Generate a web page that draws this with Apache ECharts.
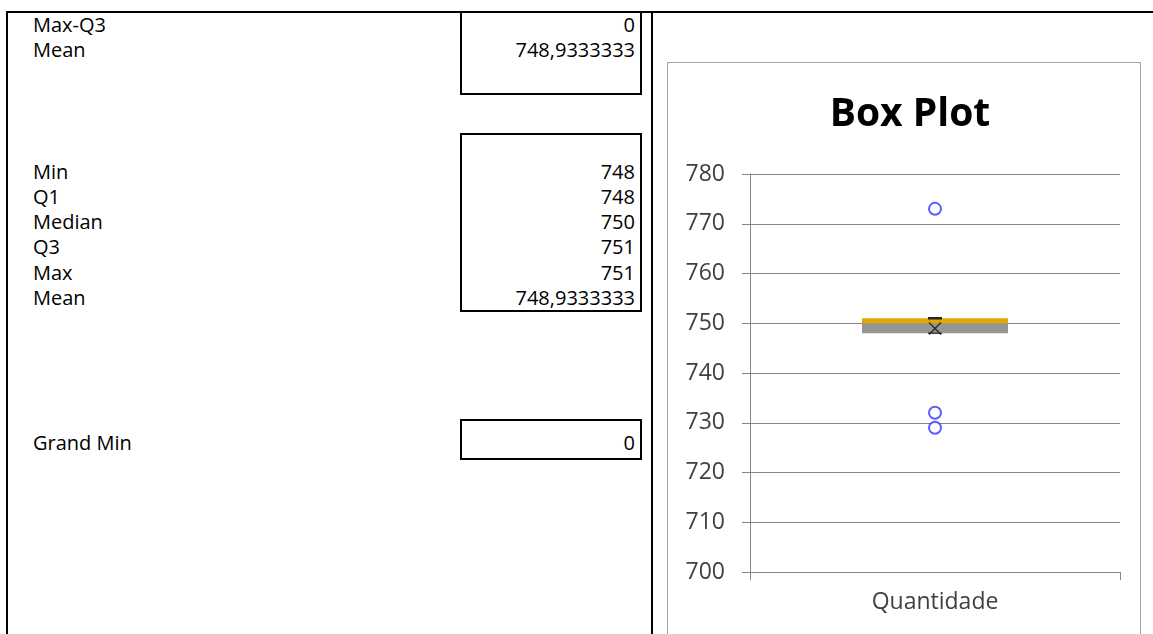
<!DOCTYPE html>
<html>
<head>
<meta charset="utf-8">
<script src="https://cdn.jsdelivr.net/npm/echarts@6/dist/echarts.min.js"></script>
<style>
html, body { margin: 0; padding: 0; background: #fff; }
body {
  width: 1153px;
  height: 634px;
  overflow: hidden;
  position: relative;
  font-family: 'Open Sans', sans-serif;
}
.rule { position: absolute; background: #000; }
.cell-box {
  position: absolute;
  left: 460px;
  width: 182px;
  box-sizing: border-box;
  border: 2px solid #000;
}
.row-label, .row-value {
  position: absolute;
  font-size: 20px;
  line-height: 26px;
  height: 26px;
  color: #000;
  white-space: nowrap;
}
.row-label { left: 33px; }
.row-value { left: 460px; width: 175px; text-align: right; }
#chart {
  position: absolute;
  left: 667px;
  top: 62px;
  width: 472px;
  height: 600px;
  border: 1px solid #a6a6a6;
  background: #fff;
}
</style>
</head>
<body>
<div id="sheet"></div>
<div id="chart"></div>
<script>
// sheet values
const tableLabels = ['Max-Q3', 'Mean', 'Min', 'Q1', 'Median', 'Q3', 'Max', 'Mean', 'Grand Min']
const tableValues = [0, 748.9333333, 748, 748, 750, 751, 751, 748.9333333, 0]

// box plot values
const categories = ['Quantidade']
const statNames = ['Min', 'Q1', 'Median', 'Q3', 'Max', 'Mean']
const statValues = [748, 748, 750, 751, 751, 748.9333333]
const outlierValues = [773, 732, 729]
const yTicks = [700, 710, 720, 730, 740, 750, 760, 770, 780]

const stat = name => statValues[statNames.indexOf(name)]
const fmt = v => (Number.isInteger(v) ? String(v) : v.toFixed(7).replace('.', ','))

// spreadsheet layout
const sheet = document.getElementById('sheet')
const rowCenters = [25, 50, 172, 197, 222, 247, 273, 298, 443]
const addEl = (cls, css, text) => {
  const el = document.createElement('div')
  el.className = cls
  Object.assign(el.style, css)
  if (text !== undefined) el.textContent = text
  sheet.appendChild(el)
}
addEl('rule', { left: '6px', top: '11px', width: '1147px', height: '2px' })
addEl('rule', { left: '6px', top: '11px', width: '2px', height: '623px' })
addEl('rule', { left: '651px', top: '11px', width: '2px', height: '623px' })
addEl('cell-box', { top: '11px', height: '84px' })
addEl('cell-box', { top: '133px', height: '179px' })
addEl('cell-box', { top: '419px', height: '41px' })
tableLabels.forEach((label, i) => {
  const top = (rowCenters[i] - 13) + 'px'
  addEl('row-label', { top }, label)
  addEl('row-value', { top }, fmt(tableValues[i]))
})

// chart
const chart = echarts.init(document.getElementById('chart'))
const gridColor = '#868686'
const labelColor = '#404040'
const q1 = stat('Q1')
const median = stat('Median')
const q3 = stat('Q3')

chart.setOption({
  animation: false,
  title: {
    text: 'Box Plot',
    left: 237,
    textAlign: 'center',
    top: 27,
    textStyle: {
      fontFamily: 'Open Sans',
      fontSize: 39,
      fontWeight: 'bold',
      color: '#000'
    }
  },
  grid: {
    left: 82,
    top: 111,
    width: 370,
    height: 398,
    containLabel: false
  },
  xAxis: {
    type: 'category',
    data: categories,
    boundaryGap: true,
    axisLine: { show: true, lineStyle: { color: gridColor, width: 1 } },
    axisTick: { show: true, length: 8, alignWithLabel: false, lineStyle: { color: gridColor } },
    axisLabel: {
      fontFamily: 'Open Sans',
      fontSize: 23,
      color: labelColor,
      margin: 19
    },
    splitLine: { show: false }
  },
  yAxis: {
    type: 'value',
    min: yTicks[0],
    max: yTicks[yTicks.length - 1],
    interval: yTicks[1] - yTicks[0],
    axisLine: { show: true, lineStyle: { color: gridColor, width: 1 } },
    axisTick: { show: true, length: 8, lineStyle: { color: gridColor } },
    axisLabel: {
      fontFamily: 'Open Sans',
      fontSize: 23,
      color: labelColor,
      margin: 25
    },
    splitLine: { show: true, lineStyle: { color: gridColor, width: 1 } }
  },
  series: [
    {
      name: 'base',
      type: 'bar',
      stack: 'box',
      barWidth: 146,
      data: [q1],
      itemStyle: { color: 'transparent' },
      silent: true
    },
    {
      name: 'Q1-Median',
      type: 'bar',
      stack: 'box',
      barWidth: 146,
      data: [median - q1],
      itemStyle: { color: '#959595' }
    },
    {
      name: 'Median-Q3',
      type: 'bar',
      stack: 'box',
      barWidth: 146,
      data: [q3 - median],
      itemStyle: { color: '#e3a800' }
    },
    {
      name: 'whiskers',
      type: 'custom',
      z: 5,
      data: [[0, stat('Min'), q1, q3, stat('Max'), stat('Mean')]],
      renderItem: (params, api) => {
        const cat = api.value(0)
        const pt = v => api.coord([cat, api.value(v)])
        const x = pt(1)[0]
        const yMin = pt(1)[1]
        const yQ1 = pt(2)[1]
        const yQ3 = pt(3)[1]
        const yMax = pt(4)[1]
        const yMean = pt(5)[1]
        const stroke = { stroke: '#262626', lineWidth: 2 }
        const thin = { stroke: '#262626', lineWidth: 1.3 }
        const cap = 7
        const m = 6
        return {
          type: 'group',
          children: [
            { type: 'line', shape: { x1: x, y1: yMin, x2: x, y2: yQ1 }, style: stroke },
            { type: 'line', shape: { x1: x, y1: yQ3, x2: x, y2: yMax }, style: stroke },
            { type: 'line', shape: { x1: x - cap, y1: yMin, x2: x + cap, y2: yMin }, style: thin },
            { type: 'line', shape: { x1: x - cap, y1: yMax, x2: x + cap, y2: yMax }, style: { stroke: '#262626', lineWidth: 2.5 } },
            { type: 'line', shape: { x1: x - m, y1: yMean - m, x2: x + m, y2: yMean + m }, style: thin },
            { type: 'line', shape: { x1: x - m, y1: yMean + m, x2: x + m, y2: yMean - m }, style: thin }
          ]
        }
      }
    },
    {
      name: 'Outliers',
      type: 'scatter',
      z: 6,
      symbol: 'emptyCircle',
      symbolSize: 12,
      data: outlierValues.map(v => [0, v]),
      itemStyle: { color: '#3333ff', borderColor: '#3333ff', borderWidth: 1.8 }
    }
  ]
})
</script>
</body>
</html>
